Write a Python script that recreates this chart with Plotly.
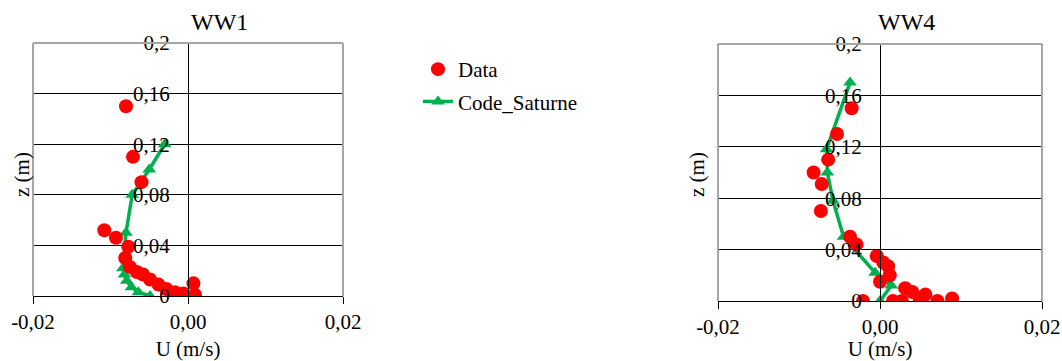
import plotly.graph_objects as go

# Velocity profiles, case WW1
ww1_data_u = [-0.0080, -0.0071, -0.0060, -0.0108, -0.0093, -0.0077, -0.0081, -0.0075,
              -0.0066, -0.0058, -0.0049, -0.0038, -0.0028, -0.0017, -0.0006, 0.0007, 0.0009]
ww1_data_z = [0.150, 0.110, 0.090, 0.052, 0.046, 0.039, 0.030, 0.023,
              0.019, 0.017, 0.013, 0.009, 0.0055, 0.003, 0.002, 0.010, 0.001]
ww1_code_u = [-0.0049, -0.0064, -0.0073, -0.0079, -0.0082, -0.0084, -0.0080, -0.0072, -0.0050, -0.0030]
ww1_code_z = [0.0, 0.003, 0.007, 0.012, 0.017, 0.022, 0.050, 0.080, 0.100, 0.120]

# Velocity profiles, case WW4
ww4_data_u = [-0.0035, -0.0053, -0.0064, -0.0082, -0.0072, -0.0073, -0.0037, -0.0029,
              -0.0004, 0.0004, 0.0010, 0.0012, 0.0000, 0.0031, 0.0040, 0.0056,
              0.0089, 0.0071, 0.0049, 0.0027, 0.0016, -0.0021]
ww4_data_z = [0.150, 0.130, 0.110, 0.100, 0.091, 0.070, 0.050, 0.044,
              0.035, 0.030, 0.027, 0.020, 0.015, 0.010, 0.007, 0.005,
              0.002, 0.000, 0.000, 0.000, 0.000, 0.000]
ww4_code_u = [0.0, 0.0014, -0.0006, -0.0045, -0.0058, -0.0065, -0.0066, -0.0037]
ww4_code_z = [0.0, 0.012, 0.022, 0.050, 0.078, 0.100, 0.118, 0.170]

x_ticks = [-0.02, 0.0, 0.02]
x_tick_text = ["-0,02", "0,00", "0,02"]
z_ticks = [0.0, 0.04, 0.08, 0.12, 0.16, 0.2]
z_tick_text = ["0", "0,04", "0,08", "0,12", "0,16", "0,2"]
panel_titles = ["WW1", "WW4"]
series_names = ["Data", "Code_Saturne"]

FONT = "Liberation Serif"
TXT = 21
RED = "#FF0000"
GREEN = "#00B050"
FRAME = "#A6A6A6"

dom1 = [33 / 1062, 343 / 1062]
dom2 = [718 / 1062, 1042 / 1062]
ydom1 = [1 - 296 / 361, 1 - 43 / 361]
ydom2 = [1 - 301 / 361, 1 - 44 / 361]

fig = go.Figure()

panels = [
    (ww1_code_u, ww1_code_z, ww1_data_u, ww1_data_z, "x", "y", True),
    (ww4_code_u, ww4_code_z, ww4_data_u, ww4_data_z, "x2", "y2", False),
]
for cu, cz, du, dz, xa, ya, show in panels:
    fig.add_trace(go.Scatter(
        x=cu, y=cz, mode="lines+markers", name=series_names[1],
        line=dict(color=GREEN, width=3.5),
        marker=dict(symbol="triangle-up", size=12, color=GREEN),
        xaxis=xa, yaxis=ya, showlegend=show, legendgroup="code", legendrank=2,
    ))
    fig.add_trace(go.Scatter(
        x=du, y=dz, mode="markers", name=series_names[0],
        marker=dict(symbol="circle", size=14, color=RED),
        xaxis=xa, yaxis=ya, showlegend=show, legendgroup="data", legendrank=1,
    ))

def xaxis_cfg(domain, anchor):
    return dict(
        domain=domain, anchor=anchor, range=[-0.02, 0.02], automargin=False,
        tickvals=x_ticks, ticktext=x_tick_text,
        showline=True, linecolor="black", linewidth=1,
        ticks="outside", ticklen=7, tickcolor="black",
        showgrid=False, zeroline=False,
        tickfont=dict(family=FONT, size=TXT, color="black"),
        title=dict(text="U (m/s)", font=dict(family=FONT, size=TXT, color="black"), standoff=8),
    )

def yaxis_cfg(domain, xdom):
    return dict(
        domain=domain, anchor="free", position=(xdom[0] + xdom[1]) / 2,
        range=[0, 0.2], tickvals=z_ticks, ticktext=z_tick_text, automargin=False,
        showline=True, linecolor="black", linewidth=1,
        ticks="outside", ticklen=6, tickcolor="black", ticklabelstandoff=8,
        showgrid=True, gridcolor="black", gridwidth=1, zeroline=False,
        tickfont=dict(family=FONT, size=TXT, color="black"),
    )

fig.update_layout(
    width=1062, height=361,
    margin=dict(l=0, r=0, t=0, b=0, autoexpand=False),
    paper_bgcolor="white", plot_bgcolor="white",
    font=dict(family=FONT, color="black"),
    xaxis=xaxis_cfg(dom1, "y"),
    yaxis=yaxis_cfg(ydom1, dom1),
    xaxis2=xaxis_cfg(dom2, "y2"),
    yaxis2=yaxis_cfg(ydom2, dom2),
    legend=dict(
        x=418 / 1062, y=1 - 49 / 361, xanchor="left", yanchor="top",
        font=dict(family=FONT, size=TXT, color="black"),
        tracegroupgap=2, traceorder="grouped", bgcolor="rgba(0,0,0,0)",
    ),
    showlegend=True,
)

# grey plot frame (left, top, right edges)
for xr, yr in [("x domain", "y domain"), ("x2 domain", "y2 domain")]:
    for x0, y0, x1, y1 in [(0, 0, 0, 1), (0, 1, 1, 1), (1, 0, 1, 1)]:
        fig.add_shape(type="line", xref=xr, yref=yr, x0=x0, y0=y0, x1=x1, y1=y1,
                      line=dict(color=FRAME, width=2), layer="above")

# panel titles and vertical axis titles
for title, xc in zip(panel_titles, [219, 906]):
    fig.add_annotation(text=title, xref="paper", yref="paper", x=xc / 1062, y=1 - 22 / 361,
                       showarrow=False, xanchor="center", yanchor="middle",
                       font=dict(family=FONT, size=24, color="black"))
for xc in [22, 697]:
    fig.add_annotation(text="z (m)", xref="paper", yref="paper", x=xc / 1062, y=1 - 175 / 361,
                       showarrow=False, textangle=-90, xanchor="center", yanchor="middle",
                       font=dict(family=FONT, size=TXT, color="black"))

fig.write_html("out.html")
